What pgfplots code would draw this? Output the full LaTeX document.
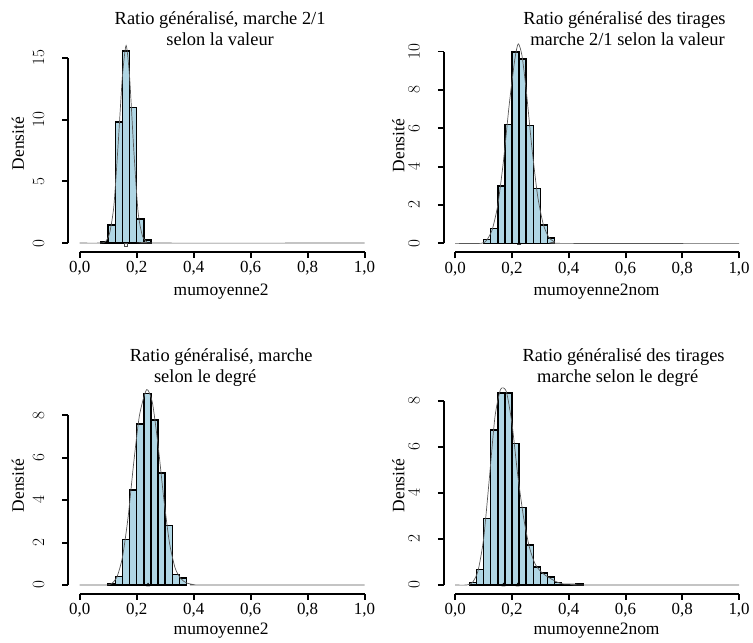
\documentclass[border=0pt]{standalone}
\usepackage{fontspec}
\setmainfont{Liberation Serif}
\usepackage{pgfplots}
\pgfplotsset{compat=1.18}
\definecolor{histfill}{RGB}{176,214,228}
\pgfplotsset{
  rstyle/.style={
    scale only axis, clip=false,
    anchor=south west,
    axis x line*=bottom, axis y line*=left,
    axis x line shift=9pt, axis y line shift=11.5pt,
    xmin=0, xmax=1, ymin=0,
    xtick={0,0.2,0.4,0.6,0.8,1},
    xticklabels={{0,0},{0,2},{0,4},{0,6},{0,8},{1,0}},
    tick align=outside, major tick length=6pt,
    every tick/.style={black, line width=2pt},
    tick label style={font=\fontsize{17}{20}\selectfont},
    yticklabel style={rotate=90, anchor=south, inner ysep=18pt},
    ylabel={Densité},
    label style={font=\fontsize{17.5}{21}\selectfont},
    title style={font=\fontsize{18.5}{21}\selectfont, align=center, anchor=north, inner sep=0pt},
  },
  hist/.style={ybar interval, fill=histfill, draw=black, line width=1.5pt},
  dens/.style={gray!70!black, line width=0.7pt, smooth, tension=0.4},
  rugm/.style={only marks, mark=triangle*, mark size=2pt, black},
  axl/.style={black, line width=2.2pt, forget plot, mark=none},
}
\begin{document}
\begin{tikzpicture}
\path (0pt,0pt) rectangle (753pt,-640pt);
% ---------- panel 1
\begin{axis}[rstyle, at={(80pt,-244pt)}, width=286pt, height=186pt, ymax=15,
  ytick={0,5,10,15},
  title={Ratio généralisé, marche 2/1\\selon la valeur},
  title style={at={(axis description cs:0.493,1.215)}},
  xlabel={mumoyenne2},
  xlabel style={at={(axis description cs:0.4965,-0.262)}, anchor=center},
  ylabel style={at={(axis description cs:-0.2168,0.5376)}, anchor=center, rotate=0},
]
\addplot[hist] coordinates {(0.075,0.1) (0.1,1.45) (0.125,9.8) (0.15,15.55) (0.175,10.97) (0.2,1.94) (0.225,0.24) (0.25,0)};
\addplot[dens] coordinates {(0,0) (0.07,0) (0.09,0.1) (0.105,0.8) (0.12,3) (0.135,8) (0.15,13.5) (0.163,16) (0.175,13.5) (0.19,7.5) (0.205,2.5) (0.22,0.6) (0.235,0.1) (0.25,0) (1,0)};
\addplot[only marks, mark=square, mark size=1.5pt, gray!60!black] coordinates {(0.163,-0.1)};
\addplot[axl] coordinates {(0,-0.726) (1,-0.726)};
\addplot[axl] coordinates {(-0.0402,0) (-0.0402,15)};
\end{axis}
% ---------- panel 2
\begin{axis}[rstyle, at={(457pt,-244.3pt)}, width=285pt, height=192.6pt, ymax=10,
  ytick={0,2,4,6,8,10},
  title={Ratio généralisé des tirages\\\hspace*{6pt}marche 2/1 selon la valeur},
  title style={at={(axis description cs:0.5965,1.175)}},
  xlabel={mumoyenne2nom},
  xlabel style={at={(axis description cs:0.498,-0.252)}, anchor=center},
  ylabel style={at={(axis description cs:-0.2,0.51)}, anchor=center, rotate=0},
]
\addplot[hist] coordinates {(0.1,0.19) (0.125,0.78) (0.15,2.99) (0.175,6.19) (0.2,9.97) (0.225,9.6) (0.25,6.14) (0.275,2.87) (0.3,0.95) (0.325,0.28) (0.35,0)};
\addplot[dens] coordinates {(0,0) (0.09,0) (0.11,0.15) (0.13,0.7) (0.15,2) (0.17,4.3) (0.19,7.2) (0.21,9.6) (0.222,10.4) (0.235,9.8) (0.25,8) (0.27,5) (0.29,2.5) (0.31,1) (0.33,0.3) (0.35,0.08) (0.37,0) (1,0)};
\addplot[rugm] coordinates {(0.225,0)};
\addplot[axl] coordinates {(0,-0.467) (1,-0.467)};
\addplot[axl] coordinates {(-0.0404,0) (-0.0404,10)};
\end{axis}
% ---------- panel 3
\begin{axis}[rstyle, at={(80pt,-587.3pt)}, width=286pt, height=170.6pt, ymax=8,
  ytick={0,2,4,6,8},
  title={Ratio généralisé, marche\\selon le degré\hspace*{32pt}},
  title style={at={(axis description cs:0.4965,1.355)}},
  xlabel={mumoyenne2},
  xlabel style={at={(axis description cs:0.4965,-0.27)}, anchor=center},
  ylabel style={at={(axis description cs:-0.2168,0.585)}, anchor=center, rotate=0},
]
\addplot[hist] coordinates {(0.1,0.06) (0.125,0.39) (0.15,2.14) (0.175,4.48) (0.2,7.58) (0.225,9.02) (0.25,7.77) (0.275,5.27) (0.3,2.8) (0.325,0.5) (0.35,0.34) (0.375,0)};
\addplot[dens] coordinates {(0,0) (0.09,0) (0.11,0.05) (0.13,0.35) (0.15,1.3) (0.17,3.2) (0.19,5.8) (0.21,8) (0.235,9.2) (0.255,8.6) (0.275,6.6) (0.295,4.1) (0.315,2) (0.335,0.8) (0.355,0.3) (0.375,0.1) (0.4,0.02) (0.42,0) (1,0)};
\addplot[rugm] coordinates {(0.24,0)};
\addplot[axl] coordinates {(0,-0.422) (1,-0.422)};
\addplot[axl] coordinates {(-0.0402,0) (-0.0402,8)};
\end{axis}
% ---------- panel 4
\begin{axis}[rstyle, at={(457pt,-587.3pt)}, width=285pt, height=185pt, ymax=8,
  ytick={0,2,4,6,8},
  title={Ratio généralisé des tirages\\marche selon le degré\hspace*{12pt}},
  title style={at={(axis description cs:0.593,1.25)}},
  xlabel={mumoyenne2nom},
  xlabel style={at={(axis description cs:0.498,-0.25)}, anchor=center},
  ylabel style={at={(axis description cs:-0.2,0.539)}, anchor=center, rotate=0},
]
\addplot[hist] coordinates {(0.05,0.1) (0.075,0.68) (0.1,2.88) (0.125,6.73) (0.15,8.34) (0.175,8.34) (0.2,6.15) (0.225,3.37) (0.25,1.73) (0.275,0.78) (0.3,0.53) (0.325,0.35) (0.35,0.1) (0.375,0) (0.4,0) (0.425,0.04) (0.45,0)};
\addplot[dens] coordinates {(0,0) (0.04,0) (0.06,0.1) (0.08,0.6) (0.1,2) (0.12,4.6) (0.14,7.3) (0.16,8.5) (0.18,8.4) (0.2,7) (0.22,4.8) (0.24,3) (0.26,1.7) (0.28,0.95) (0.3,0.6) (0.32,0.4) (0.34,0.25) (0.36,0.12) (0.38,0.05) (0.42,0.04) (0.44,0) (1,0)};
\addplot[rugm] coordinates {(0.17,0) (0.22,0)};
\addplot[axl] coordinates {(0,-0.389) (1,-0.389)};
\addplot[axl] coordinates {(-0.0404,0) (-0.0404,8)};
\end{axis}
\end{tikzpicture}
\end{document}
